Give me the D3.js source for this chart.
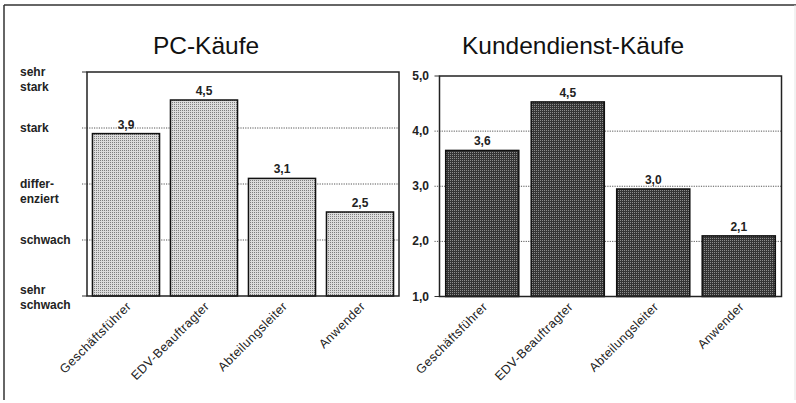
<!DOCTYPE html>
<html><head><meta charset="utf-8">
<script src="https://cdn.jsdelivr.net/npm/d3@7"></script>
<style>
body{margin:0;background:#fff;}
svg{display:block;font-family:"Liberation Sans",Arial,sans-serif;}
</style></head>
<body>
<svg id="chart" width="796" height="403"></svg>
<script>
const categories = ["Geschäftsführer","EDV-Beauftragter","Abteilungsleiter","Anwender"];
const pcValues = [3.9, 4.5, 3.1, 2.5];
const pcLabels = ["3,9","4,5","3,1","2,5"];
const kdValues = [3.65, 4.53, 2.95, 2.1];
const kdLabels = ["3,6","4,5","3,0","2,1"];
const tickValues = [1, 2, 3, 4, 5];
const pcTickLabels = [["sehr","schwach"],["schwach"],["differ-","enziert"],["stark"],["sehr","stark"]];
const kdTickLabels = ["1,0","2,0","3,0","4,0","5,0"];
const titles = ["PC-Käufe","Kundendienst-Käufe"];

const svg = d3.select("#chart");
const defs = svg.append("defs");

// light dotted pattern
const pl = defs.append("pattern").attr("id","pLight").attr("width",2).attr("height",2).attr("patternUnits","userSpaceOnUse");
pl.append("rect").attr("width",2).attr("height",2).attr("fill","#dcdcdc");
pl.append("rect").attr("width",1).attr("height",1).attr("fill","#7e7e7e");
// dark pattern
const pd = defs.append("pattern").attr("id","pDark").attr("width",2).attr("height",2).attr("patternUnits","userSpaceOnUse");
pd.append("rect").attr("width",2).attr("height",2).attr("fill","#343434");
pd.append("rect").attr("width",1).attr("height",1).attr("fill","#8c8c8c");

// outer frame lines
svg.append("line").attr("x1",4).attr("x2",796).attr("y1",5).attr("y2",5).attr("stroke","#333").attr("stroke-width",1.5);
svg.append("line").attr("x1",4).attr("x2",4).attr("y1",5).attr("y2",400).attr("stroke","#333").attr("stroke-width",1.5);
svg.append("line").attr("x1",795).attr("x2",795).attr("y1",5).attr("y2",400).attr("stroke","#e4e4e4").attr("stroke-width",1);

function panel(cfg){
  const x = d3.scaleBand().domain(categories).range([cfg.left, cfg.right])
    .paddingInner(cfg.pin).paddingOuter(cfg.pout);
  const y = d3.scaleLinear().domain([1,5]).range([cfg.bottom, cfg.top]);
  const g = svg.append("g");

  // title
  g.append("text").attr("x", cfg.titleX).attr("y", 54).attr("text-anchor","middle")
    .attr("font-size", 24.5).attr("fill","#111").text(cfg.title);

  // gridlines (dotted) incl. outward tick stubs
  g.selectAll("line.grid").data(tickValues.slice(1,4)).join("line")
    .attr("x1", cfg.left - 5).attr("x2", cfg.right)
    .attr("y1", d => y(d)).attr("y2", d => y(d))
    .attr("stroke","#555").attr("stroke-width",1).attr("stroke-dasharray","1.2,1.2");
  // tick stubs at top and bottom
  g.selectAll("line.stub").data([1,5]).join("line")
    .attr("x1", cfg.left - 5).attr("x2", cfg.left)
    .attr("y1", d => y(d)).attr("y2", d => y(d))
    .attr("stroke","#333").attr("stroke-width",1);

  // y tick labels
  cfg.tickLabelFn(g, y);

  // bars
  g.selectAll("rect.bar").data(cfg.values).join("rect")
    .attr("x", (d,i) => x(categories[i]))
    .attr("y", d => y(d))
    .attr("width", x.bandwidth())
    .attr("height", d => y(1) - y(d))
    .attr("fill", cfg.fill).attr("stroke","#111").attr("stroke-width",1.5);

  // value labels
  g.selectAll("text.val").data(cfg.values).join("text")
    .attr("x", (d,i) => x(categories[i]) + x.bandwidth()/2)
    .attr("y", d => y(d) - 5)
    .attr("text-anchor","middle").attr("font-size",12).attr("font-weight","bold").attr("fill","#222")
    .text((d,i) => cfg.labels[i]);

  // plot frame
  g.append("rect").attr("x", cfg.left).attr("y", cfg.top)
    .attr("width", cfg.right - cfg.left).attr("height", cfg.bottom - cfg.top)
    .attr("fill","none").attr("stroke","#222").attr("stroke-width",1.5);

  // category labels rotated
  g.selectAll("text.cat").data(categories).join("text")
    .attr("transform", d => `translate(${x(d) + x.bandwidth()/2 + 6},${cfg.bottom + 11}) rotate(-45)`)
    .attr("text-anchor","end").attr("font-size",12.5).attr("letter-spacing",0.4).attr("fill","#222")
    .text(d => d);
}

panel({
  title: titles[0], titleX: 206,
  left: 87, right: 399, top: 72, bottom: 296,
  pin: 0.14, pout: 0.07,
  values: pcValues, labels: pcLabels, fill: "url(#pLight)",
  tickLabelFn: (g, y) => {
    tickValues.forEach((v, i) => {
      const t = g.append("text").attr("x", 20).attr("y", y(v) + 4 - (i === 0 ? 6 : 0))
        .attr("font-size", 12).attr("font-weight","bold").attr("fill","#222");
      pcTickLabels[i].forEach((ln, j) => {
        t.append("tspan").attr("x", 20).attr("dy", j === 0 ? 0 : 15).text(ln);
      });
    });
  }
});

panel({
  title: titles[1], titleX: 573,
  left: 439.5, right: 781.5, top: 76, bottom: 296.5,
  pin: 0.145, pout: 0.0725,
  values: kdValues, labels: kdLabels, fill: "url(#pDark)",
  tickLabelFn: (g, y) => {
    g.selectAll("text.yt").data(tickValues).join("text")
      .attr("x", 429).attr("y", d => y(d) + 4).attr("text-anchor","end")
      .attr("font-size", 12).attr("font-weight","bold").attr("fill","#222")
      .text((d,i) => kdTickLabels[i]);
  }
});
</script>
</body></html>
